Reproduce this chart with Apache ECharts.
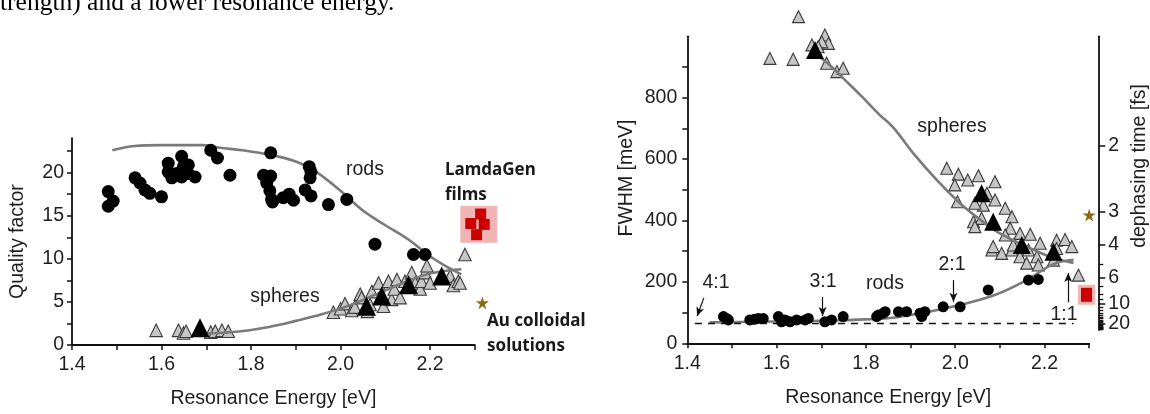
<!DOCTYPE html>
<html>
<head>
<meta charset="utf-8">
<script src="https://cdn.jsdelivr.net/npm/echarts@6/dist/echarts.min.js"></script>
<style>
html, body { margin: 0; padding: 0; background: #fff; }
#main { width: 1150px; height: 414px; }
</style>
</head>
<body>
<div id="main"></div>
<script>
// ---- left panel: quality factor ----
const qRods = [
  [1.481, 17.8], [1.492, 16.7], [1.481, 16.1],
  [1.541, 19.4], [1.552, 18.8], [1.563, 18.0], [1.574, 17.6], [1.600, 17.2],
  [1.615, 21.1], [1.615, 20.1], [1.623, 19.4], [1.634, 19.9], [1.645, 21.9], [1.649, 20.7],
  [1.645, 19.5], [1.660, 20.9], [1.660, 19.9], [1.675, 19.5],
  [1.710, 22.6], [1.725, 21.7], [1.753, 19.7],
  [1.844, 22.3], [1.828, 19.7], [1.844, 19.6], [1.835, 18.8], [1.842, 17.9], [1.846, 16.9],
  [1.848, 16.6], [1.872, 17.1], [1.885, 17.5], [1.895, 16.8],
  [1.930, 20.7], [1.934, 20.1], [1.932, 19.4], [1.921, 18.0], [1.934, 17.3],
  [1.973, 16.3], [2.014, 16.9],
  [2.077, 11.7], [2.163, 10.5], [2.189, 10.5]
];
const qSpheres = [
  [1.588, 1.7], [1.638, 1.7], [1.649, 1.4], [1.655, 1.6], [1.710, 1.5], [1.720, 1.6], [1.735, 1.7], [1.749, 1.6],
  [1.984, 3.8], [2.000, 4.2], [2.010, 4.8], [2.025, 4.0], [2.032, 4.4], [2.044, 5.9], [2.047, 5.5],
  [2.060, 3.9], [2.066, 4.7], [2.070, 6.2], [2.085, 7.2], [2.096, 4.5], [2.107, 7.4], [2.114, 5.3],
  [2.120, 6.5], [2.126, 7.6], [2.133, 5.5], [2.144, 7.4], [2.159, 8.4], [2.167, 7.2], [2.178, 6.5],
  [2.181, 7.4], [2.189, 8.4], [2.193, 9.2], [2.200, 7.2], [2.245, 8.0], [2.252, 6.9], [2.263, 7.4],
  [2.267, 7.2], [2.278, 10.5]
];
const qSpheresMean = [[1.686, 2.0], [2.058, 4.5], [2.092, 5.7], [2.152, 7.0], [2.226, 8.0]];
const qRodsCurve = [
  [1.49, 22.6], [1.54, 23.1], [1.60, 23.2], [1.69, 23.2], [1.73, 22.9], [1.78, 22.6], [1.84, 22.1],
  [1.90, 21.3], [1.94, 20.3], [2.00, 17.9], [2.05, 15.6], [2.10, 13.9], [2.15, 12.3], [2.20, 10.3],
  [2.24, 9.0], [2.27, 8.2]
];
const qSpheresCurve = [
  [1.68, 1.3], [1.76, 1.5], [1.84, 2.1], [1.90, 2.8], [1.96, 3.6], [2.02, 4.6], [2.08, 5.9],
  [2.14, 7.2], [2.20, 8.3], [2.27, 8.8]
];
const qFilms = [[2.313, 15.2], [2.291, 14.1], [2.321, 14.0], [2.304, 12.8]];
const qFilmsBox = [[2.309, 14.0]];
const qColloid = [[2.317, 4.9]];

// ---- right panel: FWHM ----
const wRods = [
  [1.481, 87], [1.488, 81], [1.492, 76], [1.540, 76], [1.550, 78], [1.559, 81], [1.570, 81],
  [1.604, 87], [1.611, 70], [1.619, 76], [1.630, 70], [1.645, 76], [1.664, 76], [1.671, 81],
  [1.708, 70], [1.723, 76], [1.749, 87], [1.824, 87], [1.828, 92], [1.839, 98], [1.843, 103],
  [1.873, 103], [1.891, 103], [1.921, 98], [1.932, 103], [1.925, 87], [1.973, 119], [2.011, 119],
  [2.074, 174], [2.164, 206], [2.186, 208]
];
const wSpheres = [
  [1.585, 928], [1.637, 925], [1.649, 1064], [1.708, 1004], [1.716, 977], [1.701, 982], [1.679, 972],
  [1.693, 966], [1.712, 912], [1.735, 885], [1.749, 896],
  [1.981, 570], [2.007, 551], [2.028, 532], [2.052, 546], [2.089, 526], [1.999, 516], [2.005, 461],
  [2.071, 489], [2.089, 467], [2.063, 450], [2.112, 440], [2.127, 412], [2.041, 396], [2.059, 407],
  [2.044, 456], [2.044, 380], [2.123, 375], [2.145, 358], [2.168, 355], [2.112, 353], [2.082, 304],
  [2.104, 293], [2.127, 304], [2.145, 282], [2.164, 304], [2.183, 282], [2.190, 326], [2.186, 255],
  [2.160, 261], [2.227, 336], [2.246, 338], [2.261, 315], [2.227, 309], [2.220, 271], [2.276, 222],
  [2.130, 320], [2.085, 315]
];
const wSpheresMean = [[1.686, 955], [2.059, 489], [2.085, 396], [2.149, 320], [2.220, 298]];
const wSpheresCurve = [
  [1.685, 945], [1.72, 905], [1.75, 862], [1.79, 805], [1.83, 745], [1.86, 705], [1.91, 612],
  [1.96, 530], [2.01, 457], [2.06, 398], [2.10, 358], [2.16, 315], [2.22, 278], [2.265, 262]
];
const wRodsCurve = [
  [1.45, 68], [1.55, 70], [1.65, 72], [1.75, 75], [1.80, 78], [1.86, 83], [1.94, 103], [2.01, 125],
  [2.09, 158], [2.16, 206], [2.22, 258], [2.265, 272]
];
const wFilms = [[2.294, 158]];
const wColloid = [[2.300, 418]];
const limitFwhm = 64.5;
const ratioArrows = [
  // [label, from, to]
  ['4:1', [1.437, 148], [1.422, 89]],
  ['3:1', [1.703, 151], [1.703, 89]],
  ['2:1', [1.996, 206], [1.996, 135]],
  ['1:1', [2.253, 134], [2.253, 229]]
];

// tick labels
const energyTicks = [1.4, 1.5, 1.6, 1.7, 1.8, 1.9, 2.0, 2.1, 2.2, 2.3];
const energyLabels = [1.4, 1.6, 1.8, 2.0, 2.2];
const qTicks = [0, 2.5, 5, 7.5, 10, 12.5, 15, 17.5, 20, 22.5];
const qLabels = [0, 5, 10, 15, 20];
const wTicks = [0, 100, 200, 300, 400, 500, 600, 700, 800, 900];
const wLabels = [0, 200, 400, 600, 800];
const tauMajor = [2, 3, 4, 6, 10, 20];
const tauMinor = [5, 7, 8, 9, 11, 12, 13, 14, 15, 16, 17, 18, 19, 21, 22, 23, 24, 25, 26, 27, 28, 29, 30];
const tauFactor = 1290; // FWHM [meV] = tauFactor / tau [fs]

const FONT = 'Liberation Sans';
const INK = '#1e1e1e';
const CURVE = '#7a7a7a';
const toFwhm = t => tauFactor / t;

function xAxisFor(grid) {
  return {
    type: 'value', gridIndex: grid, min: 1.4, max: 2.3,
    axisLine: { lineStyle: { color: '#111', width: 1.8 } },
    axisTick: { show: true, length: 5, lineStyle: { color: '#111', width: 1.5 }, customValues: energyTicks },
    axisLabel: { customValues: energyLabels, formatter: v => v.toFixed(1), color: INK, fontFamily: FONT, fontSize: 19.5, margin: 10 },
    splitLine: { show: false },
    name: 'Resonance Energy [eV]', nameLocation: 'middle', nameGap: 44,
    nameTextStyle: { color: INK, fontFamily: FONT, fontSize: 19.5 }
  };
}

const triStyle = { color: '#c6c6c6', borderColor: '#3a3a3a', borderWidth: 1.1, opacity: 1 };
const black = { color: '#000', opacity: 1 };
const STAR = 'path://M50,0 L61,35 L98,35 L68,57 L79,91 L50,70 L21,91 L32,57 L2,35 L39,35 Z';

const arrowLines = ratioArrows.map(a => [{ coord: a[1] }, { coord: a[2] }]);

function txt(x, y, text, font, extra) {
  return Object.assign({
    type: 'text', x: x, y: y,
    style: { text: text, font: font, fill: INK, textAlign: 'center', textVerticalAlign: 'middle' }
  }, extra || {});
}
function boldTxt(x, y, text) {
  return {
    type: 'text', x: x, y: y,
    style: { text: text, font: BOLD, fill: '#1a1a1a', textAlign: 'left', textVerticalAlign: 'middle' }
  };
}
const SANS = '19.5px "Liberation Sans"';
const BOLD = 'bold 17px "Noto Sans"';

const option = {
  animation: false,
  grid: [
    { left: 72, top: 138.2, width: 402.8, height: 207.8 },
    { left: 687.3, top: 36.3, width: 401.9, height: 307 },
    { left: 1098.3, top: 36.3, width: 1, height: 293.7 }
  ],
  xAxis: [
    xAxisFor(0),
    xAxisFor(1),
    { type: 'value', gridIndex: 2, show: false, min: 0, max: 1 }
  ],
  yAxis: [
    {
      type: 'value', gridIndex: 0, min: 0, max: 24,
      axisLine: { show: true, lineStyle: { color: '#111', width: 1.8 } },
      axisTick: { show: true, length: 5, lineStyle: { color: '#111', width: 1.5 }, customValues: qTicks },
      axisLabel: { customValues: qLabels, color: INK, fontFamily: FONT, fontSize: 19.5, margin: 8 },
      splitLine: { show: false },
      name: 'Quality factor', nameLocation: 'middle', nameGap: 44, nameRotate: 90,
      nameTextStyle: { color: INK, fontFamily: FONT, fontSize: 19.5 }
    },
    {
      type: 'value', gridIndex: 1, min: 0, max: 1000,
      axisLine: { show: true, lineStyle: { color: '#111', width: 1.8 } },
      axisTick: { show: true, length: 5, lineStyle: { color: '#111', width: 1.5 }, customValues: wTicks },
      axisLabel: { customValues: wLabels, color: INK, fontFamily: FONT, fontSize: 19.5, margin: 10 },
      splitLine: { show: false }
    },
    {
      type: 'value', gridIndex: 2, position: 'right', min: 43.3, max: 1000,
      axisLine: { show: true, lineStyle: { color: '#111', width: 1.8 } },
      axisTick: { show: true, length: 7, lineStyle: { color: '#111', width: 1.5 }, customValues: tauMajor.map(toFwhm) },
      axisLabel: {
        customValues: tauMajor.map(toFwhm), formatter: v => String(Math.round(tauFactor / v)),
        color: INK, fontFamily: FONT, fontSize: 19.5, margin: 9
      },
      splitLine: { show: false }
    },
    {
      type: 'value', gridIndex: 2, position: 'right', min: 43.3, max: 1000,
      axisLine: { show: false },
      axisTick: { show: true, length: 4, lineStyle: { color: '#111', width: 1.3 }, customValues: tauMinor.map(toFwhm) },
      axisLabel: { show: false },
      splitLine: { show: false }
    }
  ],
  series: [
    // left panel
    { type: 'scatter', xAxisIndex: 0, yAxisIndex: 0, clip: false, symbol: 'triangle', symbolSize: 12.5, itemStyle: triStyle, data: qSpheres, z: 2 },
    { type: 'line', xAxisIndex: 0, yAxisIndex: 0, smooth: 0.4, showSymbol: false, lineStyle: { color: CURVE, width: 2.6 }, data: qRodsCurve, z: 3 },
    { type: 'line', xAxisIndex: 0, yAxisIndex: 0, smooth: 0.4, showSymbol: false, lineStyle: { color: CURVE, width: 2.6 }, data: qSpheresCurve, z: 3 },
    { type: 'scatter', xAxisIndex: 0, yAxisIndex: 0, clip: false, symbol: 'circle', symbolSize: 13, itemStyle: black, data: qRods, z: 4 },
    { type: 'scatter', xAxisIndex: 0, yAxisIndex: 0, clip: false, symbol: 'triangle', symbolSize: 19, itemStyle: black, data: qSpheresMean, z: 5 },
    { type: 'scatter', xAxisIndex: 0, yAxisIndex: 0, clip: false, symbol: 'rect', symbolSize: 37, itemStyle: { color: '#f1b4b4', opacity: 1 }, data: qFilmsBox, z: 2 },
    { type: 'scatter', xAxisIndex: 0, yAxisIndex: 0, clip: false, symbol: 'rect', symbolSize: 11, itemStyle: { color: '#cc0000', opacity: 1 }, data: qFilms, z: 3 },
    { type: 'scatter', xAxisIndex: 0, yAxisIndex: 0, clip: false, symbol: STAR, symbolSize: 13, itemStyle: { color: '#8a6a12', opacity: 1 }, data: qColloid, z: 3 },

    // right panel
    { type: 'scatter', xAxisIndex: 1, yAxisIndex: 1, clip: false, symbol: 'triangle', symbolSize: 12, itemStyle: triStyle, data: wSpheres, z: 2 },
    {
      type: 'line', xAxisIndex: 1, yAxisIndex: 1, smooth: 0.4, showSymbol: false, lineStyle: { color: CURVE, width: 2.6 }, data: wSpheresCurve, z: 3,
      markLine: {
        silent: true, symbol: ['none', 'none'], label: { show: false },
        lineStyle: { color: '#111', width: 1.3, type: [7, 6] },
        data: [[{ coord: [1.417, limitFwhm] }, { coord: [2.265, limitFwhm] }]]
      }
    },
    {
      type: 'line', xAxisIndex: 1, yAxisIndex: 1, smooth: 0.4, showSymbol: false, lineStyle: { color: CURVE, width: 2.6 }, data: wRodsCurve, z: 3,
      markLine: {
        silent: true, symbol: ['none', 'arrow'], symbolSize: [6, 9], label: { show: false },
        lineStyle: { color: '#111', width: 1.2, type: 'solid' },
        data: arrowLines
      }
    },
    { type: 'scatter', xAxisIndex: 1, yAxisIndex: 1, clip: false, symbol: 'circle', symbolSize: 11, itemStyle: black, data: wRods, z: 4 },
    { type: 'scatter', xAxisIndex: 1, yAxisIndex: 1, clip: false, symbol: 'triangle', symbolSize: 18, itemStyle: black, data: wSpheresMean, z: 5 },
    { type: 'scatter', xAxisIndex: 1, yAxisIndex: 1, clip: false, symbol: 'rect', symbolSize: [17, 20], itemStyle: { color: '#f1b4b4', opacity: 1 }, data: wFilms, z: 2 },
    { type: 'scatter', xAxisIndex: 1, yAxisIndex: 1, clip: false, symbol: 'rect', symbolSize: [11, 14], itemStyle: { color: '#cc0000', opacity: 1 }, data: wFilms, z: 3 },
    { type: 'scatter', xAxisIndex: 1, yAxisIndex: 1, clip: false, symbol: STAR, symbolSize: 13, itemStyle: { color: '#8a6a12', opacity: 1 }, data: wColloid, z: 3 }
  ],
  graphic: [
    { type: 'text', x: 0, y: 3, style: { text: 'trength) and a lower resonance energy.', font: '25.5px "Liberation Serif"', fill: '#000', textAlign: 'left', textVerticalAlign: 'middle' } },
    // left annotations
    txt(365, 170, 'rods', SANS),
    txt(285, 297, 'spheres', SANS),
    boldTxt(445, 170, 'LamdaGen'),
    boldTxt(445, 195, 'films'),
    boldTxt(487, 321, 'Au colloidal'),
    boldTxt(487, 346, 'solutions'),
    // right annotations
    txt(952, 127, 'spheres', SANS),
    txt(885, 284, 'rods', SANS),
    txt(716, 283, ratioArrows[0][0], SANS),
    txt(823, 282, ratioArrows[1][0], SANS),
    txt(952, 265, ratioArrows[2][0], SANS),
    txt(1064, 315, ratioArrows[3][0], SANS),
    txt(627, 178, 'FWHM [meV]', SANS, { rotation: Math.PI / 2 }),
    txt(1140, 166, 'dephasing time [fs]', SANS, { rotation: Math.PI / 2 })
  ]
};

const chart = echarts.init(document.getElementById('main'));
chart.setOption(option);
</script>
</body>
</html>
